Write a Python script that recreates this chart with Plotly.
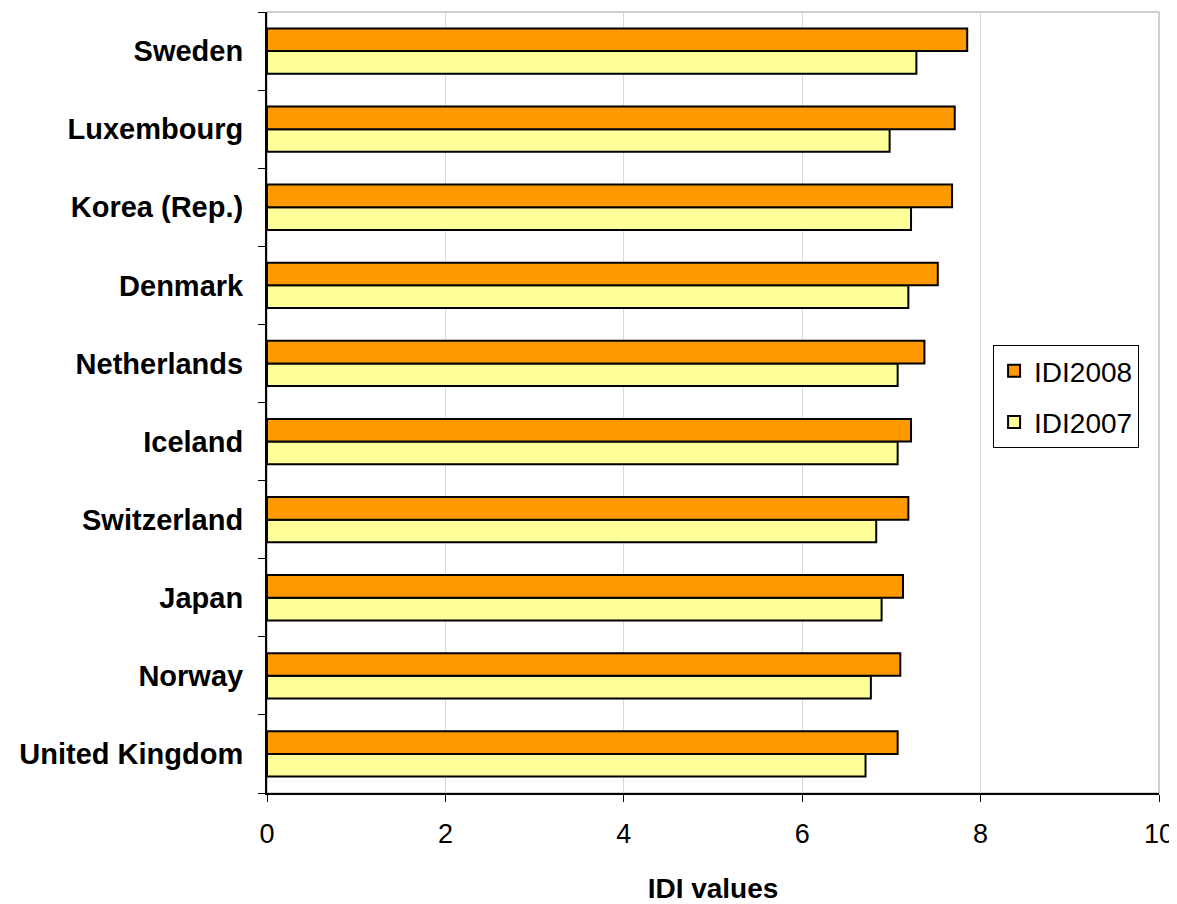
import plotly.graph_objects as go

countries = ["Sweden", "Luxembourg", "Korea (Rep.)", "Denmark", "Netherlands",
             "Iceland", "Switzerland", "Japan", "Norway", "United Kingdom"]
idi2008 = [7.85, 7.71, 7.68, 7.52, 7.37, 7.22, 7.19, 7.13, 7.10, 7.07]
idi2007 = [7.28, 6.98, 7.22, 7.19, 7.07, 7.07, 6.83, 6.89, 6.77, 6.71]
x_ticks = [0, 2, 4, 6, 8, 10]

cats = countries[::-1]
font = "Arial, Liberation Sans, sans-serif"

fig = go.Figure()
fig.add_trace(go.Bar(y=cats, x=idi2007[::-1], orientation="h", name="IDI2007",
                     legendgroup="g2007", legendrank=2,
                     marker=dict(color="#FFFF99", line=dict(color="black", width=2))))
fig.add_trace(go.Bar(y=cats, x=idi2008[::-1], orientation="h", name="IDI2008",
                     legendgroup="g2008", legendrank=1,
                     marker=dict(color="#FF9900", line=dict(color="black", width=2))))

fig.update_layout(
    width=1169, height=896,
    margin=dict(l=259, r=18, t=4, b=111),
    paper_bgcolor="white", plot_bgcolor="white",
    barmode="group", bargap=0.42, bargroupgap=0,
    font=dict(family=font, color="black"),
    legend=dict(x=0.814, y=0.5736, xanchor="left", yanchor="top",
                traceorder="grouped", tracegroupgap=12,
                bordercolor="black", borderwidth=1,
                font=dict(size=28, family=font), bgcolor="white",
                itemsizing="constant"),
    shapes=[dict(type="rect", xref="paper", yref="paper", x0=0, y0=0, x1=1, y1=1,
                 line=dict(color="#A0A0A0", width=1), layer="below")],
)
fig.update_xaxes(range=[0, 10], tickvals=x_ticks, showgrid=True, gridcolor="#D9D9D9",
                 gridwidth=1, showline=True, linecolor="black", linewidth=2,
                 ticks="outside", ticklen=7, tickcolor="black",
                 tickfont=dict(size=27, family=font), zeroline=False,
                 ticklabelstandoff=9, automargin=False, ticklabeloverflow="allow",
                 title=dict(text="<b>IDI values</b>", font=dict(size=28, family=font), standoff=33))
fig.update_yaxes(categoryorder="array", categoryarray=cats, showline=True,
                 linecolor="black", linewidth=2, ticks="outside", ticklen=7,
                 tickcolor="black", tickson="boundaries", showgrid=False,
                 tickfont=dict(size=29, family=font), ticklabelstandoff=16,
                 automargin=False,
                 tickprefix="<b>", ticksuffix="</b>")

fig.write_html("out.html")
